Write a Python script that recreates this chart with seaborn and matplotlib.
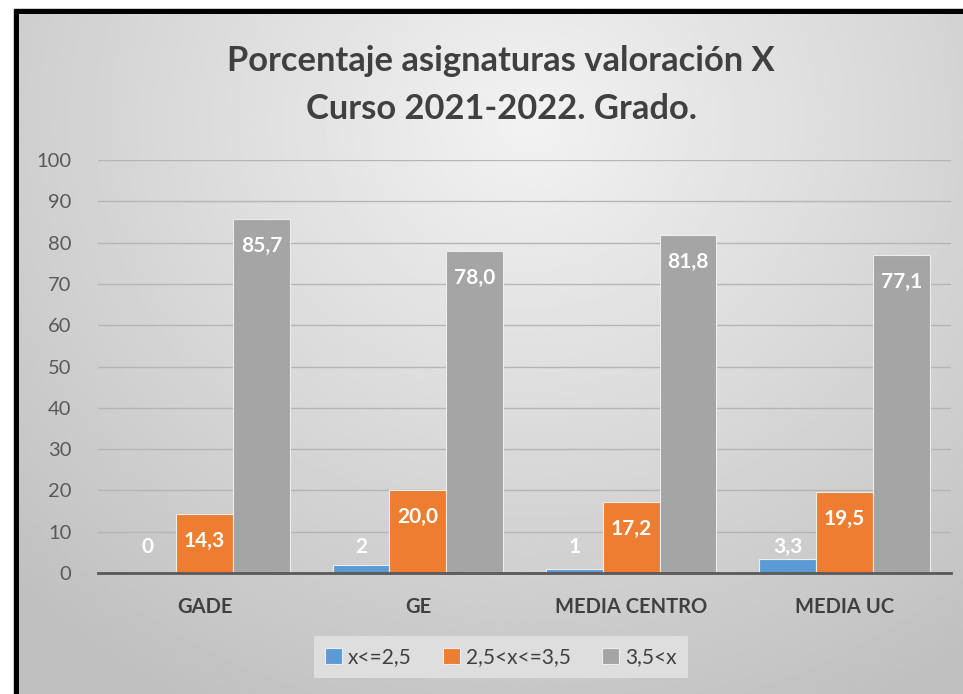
import numpy as np
import pandas as pd
import matplotlib.pyplot as plt
from matplotlib.patches import Rectangle
import seaborn as sns

# chart data
categories = ["GADE", "GE", "MEDIA CENTRO", "MEDIA UC"]
series = ["x<=2,5", "2,5<x<=3,5", "3,5<x"]
low_vals = [0, 2, 1, 3.3]
mid_vals = [14.3, 20.0, 17.2, 19.5]
high_vals = [85.7, 78.0, 81.8, 77.1]
low_labels = ["0", "2", "1", "3,3"]
mid_labels = ["14,3", "20,0", "17,2", "19,5"]
high_labels = ["85,7", "78,0", "81,8", "77,1"]
colors = ["#5B9BD5", "#ED7D31", "#A5A5A5"]

df = pd.DataFrame({
    "categoria": categories * 3,
    "serie": [series[0]] * 4 + [series[1]] * 4 + [series[2]] * 4,
    "valor": low_vals + mid_vals + high_vals,
})

plt.rcParams['font.family'] = ['Lato', 'DejaVu Sans']
W, H = 963, 694
fig = plt.figure(figsize=(W / 100, H / 100), dpi=100)
fig.patch.set_facecolor("white")

# background: black frame on top/left and a soft radial grey gradient
bg = fig.add_axes([0, 0, 1, 1], zorder=-10)
bg.axis("off")
bg.add_patch(Rectangle((14, 9), W, H, color="black", zorder=1))
yy, xx = np.mgrid[0:H:2, 0:W:2]
dist = np.sqrt((xx - 520) ** 2 + ((yy - 110) * 1.1) ** 2)
shade = np.clip(0.95 - 0.16 * dist / 600, 0.75, 0.96)
bg.imshow(shade, cmap="gray", vmin=0, vmax=1, extent=(19, W, H, 14), aspect="auto",
          interpolation="bilinear", zorder=2)
bg.set_xlim(0, W)
bg.set_ylim(H, 0)

ax = fig.add_axes([98 / W, (H - 573) / H, 853 / W, 413 / H])
ax.set_facecolor("none")
sns.barplot(data=df, x="categoria", y="valor", hue="serie", palette=colors, saturation=1,
            width=0.8, edgecolor="#EDEDED", linewidth=0.8, ax=ax, legend=True)

ax.set_ylim(0, 100)
ax.set_yticks(range(0, 101, 10))
ax.set_xlabel("")
ax.set_ylabel("")
ax.grid(axis="y", color="#B5B5B5", linewidth=1)
ax.grid(axis="x", visible=False)
ax.set_axisbelow(True)
for s in ["top", "right", "left"]:
    ax.spines[s].set_visible(False)
ax.spines["bottom"].set_color("#595959")
ax.spines["bottom"].set_linewidth(2)
ax.tick_params(axis="both", length=0)
ax.tick_params(axis="y", labelsize=14.5, labelcolor="#595959", pad=19)
ax.set_xticks(range(len(categories)))
ax.set_xticklabels(categories, fontsize=14.5, fontweight="bold", color="#404040")
ax.tick_params(axis="x", pad=17)

# data labels
for cont, labels in zip(ax.containers, [low_labels, mid_labels, high_labels]):
    for bar, lab in zip(cont, labels):
        h = bar.get_height()
        xc = bar.get_x() + bar.get_width() / 2
        if h < 10:
            ax.annotate(lab, (xc, 0), xytext=(0, 26), textcoords="offset pixels",
                        ha="center", va="center", color="white", fontsize=15, fontweight="bold")
        else:
            ax.annotate(lab, (xc, h), xytext=(0, -27), textcoords="offset pixels",
                        ha="center", va="center", color="white", fontsize=15, fontweight="bold")

handles, labs = ax.get_legend_handles_labels()
ax.get_legend().remove()
leg = fig.legend(handles, labs, loc="center", bbox_to_anchor=(501 / W, 1 - 657 / H), ncol=3,
                 fontsize=15, frameon=True, facecolor="#DEDEDE", edgecolor="none", framealpha=1,
                 fancybox=False, handlelength=0.8, handleheight=0.8, handletextpad=0.3,
                 columnspacing=1.5, borderpad=0.55)
for t in leg.get_texts():
    t.set_color("#404040")

fig.text(501 / W, 1 - 85 / H, "Porcentaje asignaturas valoración X\nCurso 2021-2022. Grado.",
         ha="center", va="center", fontsize=24.8, fontweight="bold", color="#404040", linespacing=1.65)

fig.savefig("out.png", dpi=100)
